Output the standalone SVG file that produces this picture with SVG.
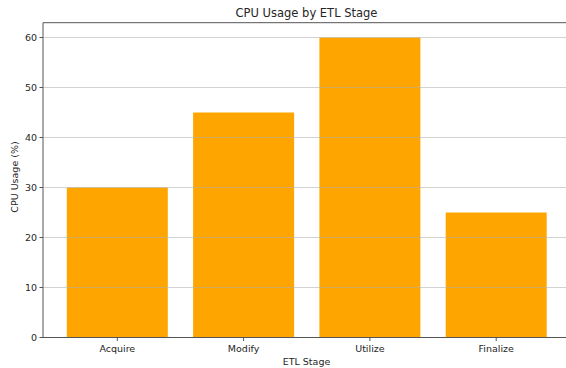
<svg xmlns="http://www.w3.org/2000/svg" width="566" height="368" viewBox="0 0 566 368">
<style>
text{font-family:"DejaVu Sans","Liberation Sans",sans-serif;fill:#262626}
.tick{font-size:9.5px}
.bar{fill:#FFA500}
.grid{stroke:#b0b0b0;stroke-width:0.8;opacity:0.7}
.spine{stroke:#555;stroke-width:1;fill:none}
</style>
<rect width="566" height="368" fill="#fff"/>
<g id="bars">
<rect id="bar-acquire" class="bar" x="66.8" y="187.5" width="101" height="150"/>
<rect id="bar-modify" class="bar" x="193.1" y="112.5" width="101" height="225"/>
<rect id="bar-utilize" class="bar" x="319.4" y="37.5" width="101" height="300"/>
<rect id="bar-finalize" class="bar" x="445.7" y="212.5" width="101" height="125"/>
</g>
<g id="grid">
<line class="grid" x1="43" x2="566" y1="287.5" y2="287.5"/>
<line class="grid" x1="43" x2="566" y1="237.5" y2="237.5"/>
<line class="grid" x1="43" x2="566" y1="187.5" y2="187.5"/>
<line class="grid" x1="43" x2="566" y1="137.5" y2="137.5"/>
<line class="grid" x1="43" x2="566" y1="87.5" y2="87.5"/>
<line class="grid" x1="43" x2="566" y1="37.5" y2="37.5"/>
</g>
<g id="axes">
<path class="spine" d="M566 22.7 H43 V337.5 H566"/>
<path class="spine" d="M39.5 337.5H43M39.5 287.5H43M39.5 237.5H43M39.5 187.5H43M39.5 137.5H43M39.5 87.5H43M39.5 37.5H43"/>
<path class="spine" d="M117.3 337.5V341M243.6 337.5V341M369.9 337.5V341M496.2 337.5V341"/>
<g class="tick" text-anchor="end">
<text x="37" y="340.8">0</text>
<text x="37" y="290.8">10</text>
<text x="37" y="240.8">20</text>
<text x="37" y="190.8">30</text>
<text x="37" y="140.8">40</text>
<text x="37" y="90.8">50</text>
<text x="37" y="40.8">60</text>
</g>
<g class="tick" text-anchor="middle">
<text x="117.3" y="351.5">Acquire</text>
<text x="243.6" y="351.5">Modify</text>
<text x="369.9" y="351.5">Utilize</text>
<text x="496.2" y="351.5">Finalize</text>
</g>
<text x="306.5" y="364.5" text-anchor="middle" font-size="9.5">ETL Stage</text>
<text x="0" y="0" text-anchor="middle" font-size="9.5" transform="translate(17.5 177) rotate(-90)">CPU Usage (%)</text>
<text x="306.5" y="16.5" text-anchor="middle" font-size="11.5">CPU Usage by ETL Stage</text>
</g>
</svg>
